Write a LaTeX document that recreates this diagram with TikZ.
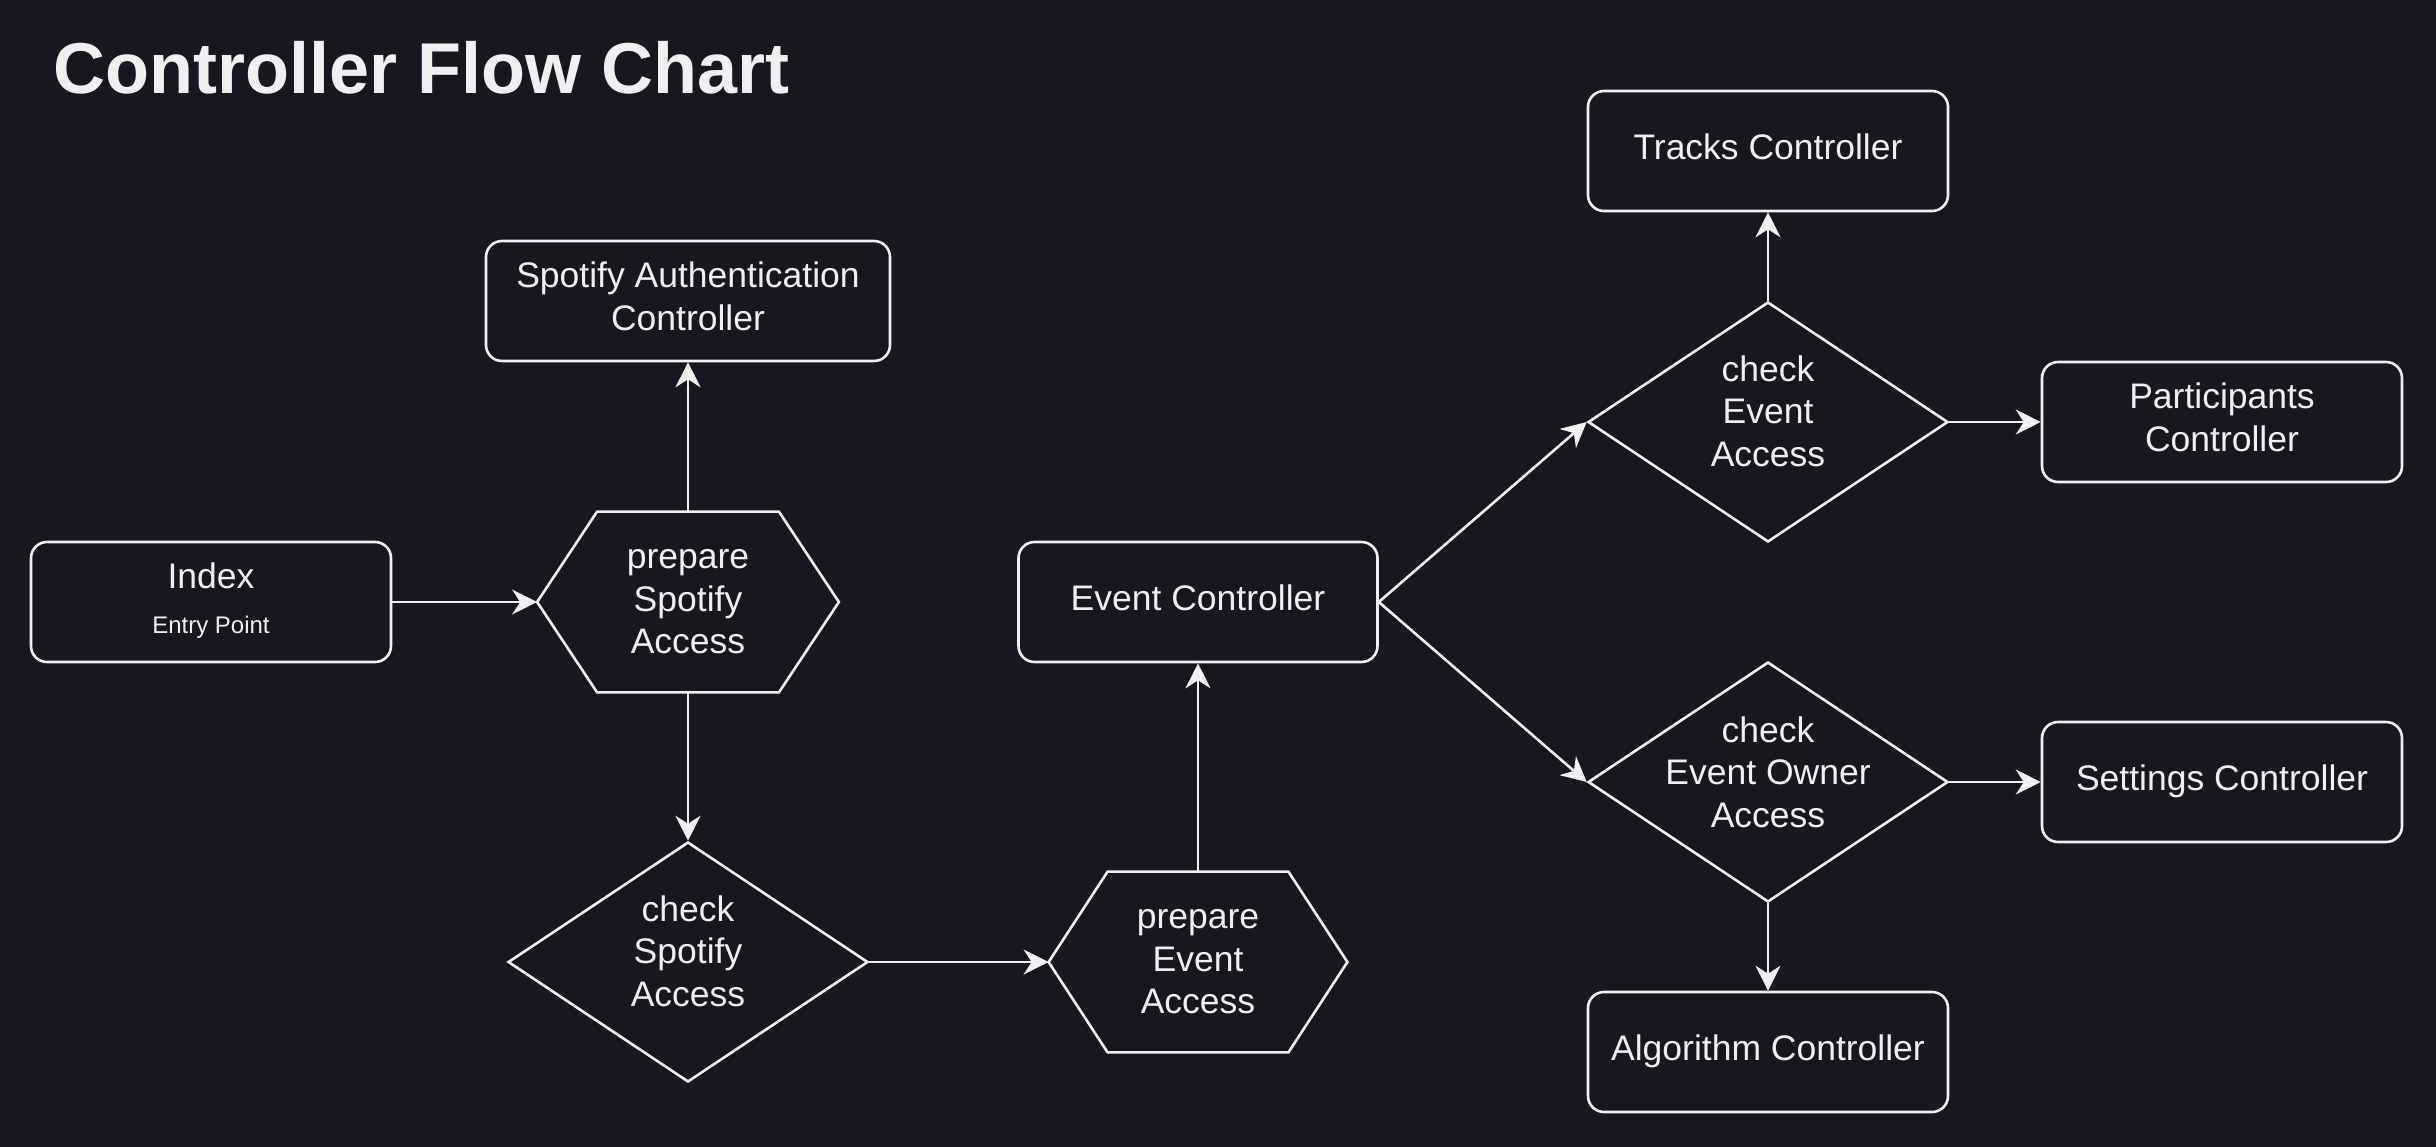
\documentclass[tikz,border=0pt]{standalone}
\usepackage{fontspec}
\setmainfont{Liberation Sans}
\usetikzlibrary{arrows.meta,shapes.geometric}
\definecolor{bgc}{HTML}{18161F}
\definecolor{fgc}{HTML}{F0F0F0}
\begin{document}
\begin{tikzpicture}[x=0.5pt,y=-0.5pt,
  every node/.style={font=\fontsize{17.75pt}{21.3pt}\selectfont, text=fgc},
  shapeline/.style={draw=fgc, line width=1.3pt, line join=miter},
  box/.style={draw=fgc, line width=1.3pt, rounded corners=8pt, minimum width=180pt, minimum height=60pt, align=center, inner sep=0pt, text depth=4.6pt},
  hexbox/.style={minimum width=150pt, minimum height=90pt, align=center, inner sep=0pt},
  diam/.style={shape=diamond, draw=fgc, line width=1.3pt, minimum width=180pt, minimum height=120pt, inner sep=0pt},
  txt/.style={align=center, inner sep=0pt},
  arr/.style={draw=fgc, line width=1.3pt, -{Stealth[length=12.5pt, width=12.5pt, inset=4pt]}}
]
\useasboundingbox (0,0) rectangle (2436,1146);
\fill[bgc] (-10,-10) rectangle (2446,1156);
\node[anchor=base west, inner sep=0pt, font=\fontsize{36pt}{43pt}\selectfont\bfseries] (title) at (53,93) {Controller Flow Chart};

\node[box, text depth=4.1pt] (idx) at (211,602) {Index\\[1pt]{\fontsize{12pt}{14pt}\selectfont Entry Point}};
\node[box, minimum width=202pt] (auth) at (688,301) {Spotify Authentication\\Controller};
\node[hexbox, minimum width=150.5pt] (hexA) at (688,602) {prepare\\Spotify\\Access};
\draw[shapeline] (hexA.west) -- ([xshift=30pt]hexA.north west) -- ([xshift=-30pt]hexA.north east) -- (hexA.east) -- ([xshift=-30pt]hexA.south east) -- ([xshift=30pt]hexA.south west) -- cycle;
\node[diam] (dA) at (688,962) {};
\node[txt] (tA) at ([yshift=5.5pt]dA.center) {check\\Spotify\\Access};
\node[hexbox, minimum width=149pt] (hexB) at (1198,962) {prepare\\Event\\Access};
\draw[shapeline] (hexB.west) -- ([xshift=29.5pt]hexB.north west) -- ([xshift=-29.5pt]hexB.north east) -- (hexB.east) -- ([xshift=-29.5pt]hexB.south east) -- ([xshift=29.5pt]hexB.south west) -- cycle;
\node[box, minimum width=179.5pt] (evc) at (1198,602) {Event Controller};
\node[box] (trk) at (1768,151) {Tracks Controller};
\node[diam] (dB) at (1768,422) {};
\node[txt] (tB) at ([yshift=5.5pt]dB.center) {check\\Event\hspace*{.278em}\\Access};
\node[box] (part) at (2222,422) {Participants\\Controller};
\node[diam] (dC) at (1768,782) {};
\node[txt] (tC) at ([yshift=5pt]dC.center) {check\\Event Owner\\Access};
\node[box] (sett) at (2222,782) {Settings Controller};
\node[box] (alg) at (1768,1052) {Algorithm Controller};

\draw[arr] (idx.east) -- (hexA.west);
\draw[arr] (hexA.north) -- (auth.south);
\draw[arr] (hexA.south) -- (dA.north);
\draw[arr] (dA.east) -- (hexB.west);
\draw[arr] (hexB.north) -- (evc.south);
\draw[arr] (evc.east) -- (dB.west);
\draw[arr] (evc.east) -- (dC.west);
\draw[arr] (dB.north) -- (trk.south);
\draw[arr] (dB.east) -- (part.west);
\draw[arr] (dC.east) -- (sett.west);
\draw[arr] (dC.south) -- (alg.north);
\end{tikzpicture}
\end{document}
